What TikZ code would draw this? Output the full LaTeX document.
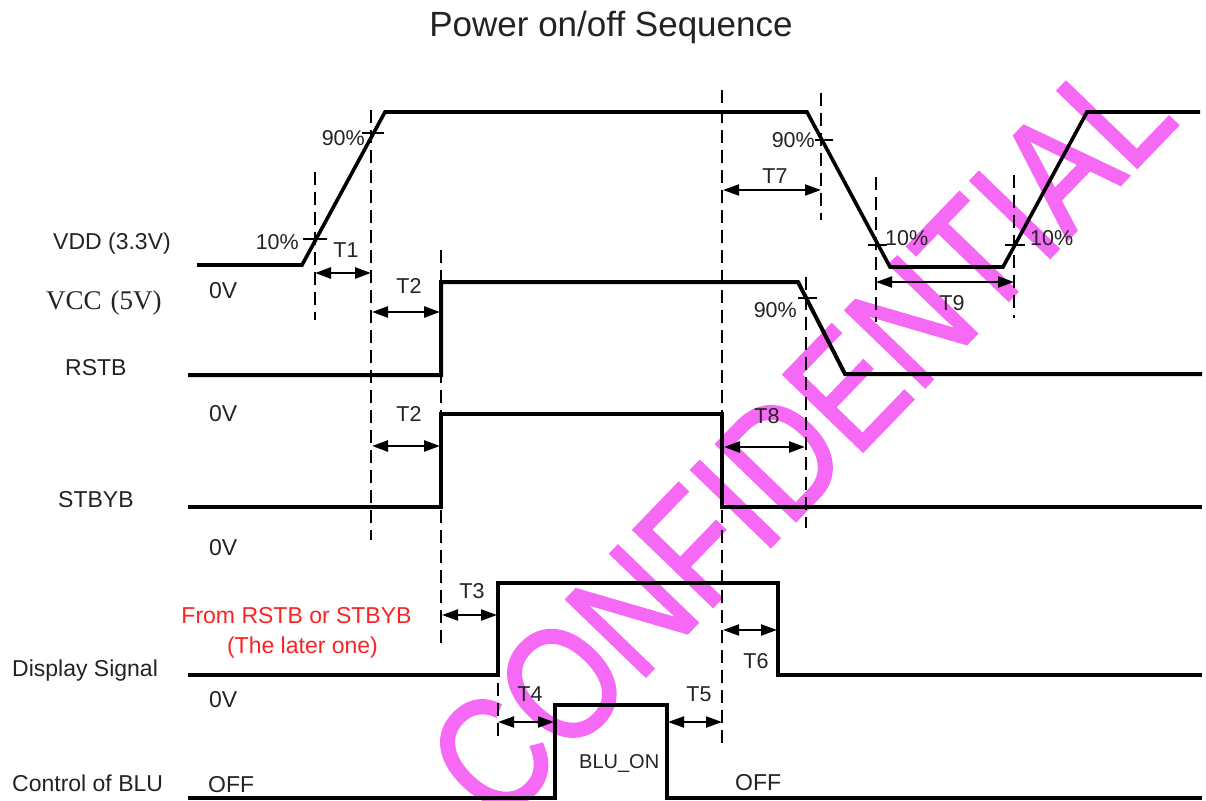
\documentclass[tikz,border=0pt]{standalone}
\usepackage{fontspec}
\setmainfont{Liberation Sans}
\newfontfamily\serifvcc{Liberation Serif}
\newfontfamily\wmfont[FakeBold=1.5]{Liberation Sans}
\usetikzlibrary{arrows.meta}
\definecolor{txt}{RGB}{35,35,35}
\definecolor{wm}{RGB}{245,105,245}
\definecolor{redtxt}{RGB}{250,35,35}
\begin{document}
\begin{tikzpicture}[x=1pt,y=-1pt,
  sig/.style={line width=4pt, line join=miter, line cap=butt},
  guide/.style={line width=2pt, dash pattern=on 13pt off 7pt},
  dim/.style={line width=2pt, {Triangle[length=16pt,width=11pt]}-{Triangle[length=16pt,width=11pt]}},
  tickmark/.style={line width=1.2pt},
  lab/.style={font=\fontsize{23}{27}\selectfont, text=txt, inner sep=0pt},
  small/.style={font=\fontsize{21.5}{25}\selectfont, text=txt, inner sep=0pt},
]
\useasboundingbox (0,0) rectangle (1206,800);

% watermark
\node[rotate=46, text=wm, inner sep=0pt, font=\wmfont\fontsize{134}{140}\selectfont] (wmark) at (800,437) {\scalebox{1}[1.2]{CONFIDENTIAL}};

% guide lines
\draw[guide] (315,172) -- (315,320);
\draw[guide] (371,110) -- (371,540);
\draw[guide] (441,250) -- (441,648);
\draw[guide] (498,683) -- (498,743);
\draw[guide] (722,90) -- (722,745);
\draw[guide] (821,93) -- (821,220);
\draw[guide] (806,277) -- (806,528);
\draw[guide] (876,177) -- (876,322);
\draw[guide] (1014,175) -- (1014,318);

% level ticks
\draw[tickmark] (303,239) -- (327,239);
\draw[tickmark] (362,133) -- (384,133);
\draw[tickmark] (815,140) -- (833,140);
\draw[tickmark] (868,245) -- (887,245);
\draw[tickmark] (1005,245) -- (1025,245);
\draw[tickmark] (798,298) -- (817,298);

% signals
\draw[sig, line width=3.6pt] (197,265) -- (302,265) -- (385,112) -- (807,112) -- (890,267) -- (1003,267) -- (1087,112) -- (1200,112);
\draw[sig] (188,375) -- (441,375) -- (441,282) -- (798,282) -- (845,374) -- (1202,374);
\draw[sig] (188,507) -- (441,507) -- (441,414) -- (722,414) -- (722,507) -- (1202,507);
\draw[sig] (188,675) -- (498,675) -- (498,583) -- (778,583) -- (778,675) -- (1202,675);
\draw[sig] (188,798) -- (555,798) -- (555,705) -- (667,705) -- (667,798) -- (1202,798);

% dimension arrows
\coordinate (t1a) at (315,273); \coordinate (t1b) at (371,273);
\coordinate (t2a) at (372,312); \coordinate (t2b) at (440,312);
\coordinate (t2c) at (372,446); \coordinate (t2d) at (440,446);
\coordinate (t3a) at (442,615); \coordinate (t3b) at (497,615);
\coordinate (t4a) at (498,722); \coordinate (t4b) at (554,722);
\coordinate (t5a) at (668,722); \coordinate (t5b) at (722,722);
\coordinate (t6a) at (723,630); \coordinate (t6b) at (777,630);
\coordinate (t7a) at (723,190); \coordinate (t7b) at (821,190);
\coordinate (t8a) at (724,447); \coordinate (t8b) at (805,447);
\coordinate (t9a) at (876,282); \coordinate (t9b) at (1014,282);
\draw[dim, line width=2.6pt] (t1a) -- (t1b);
\draw[dim, line width=2.6pt] (t2a) -- (t2b);
\draw[dim, line width=2.6pt] (t2c) -- (t2d);
\draw[dim] (t3a) -- (t3b);
\draw[dim] (t4a) -- (t4b);
\draw[dim] (t5a) -- (t5b);
\draw[dim] (t6a) -- (t6b);
\draw[dim] (t7a) -- (t7b);
\draw[dim, line width=2.6pt] (t8a) -- (t8b);
\draw[dim] (t9a) -- (t9b);

% title
\node[font=\fontsize{35}{40}\selectfont, text=txt, anchor=base, inner sep=0pt] (title) at (611,37) {Power on/off Sequence};

% signal names
\node[lab, anchor=base west] (lvdd) at (53,249) {VDD (3.3V)};
\node[font=\serifvcc\fontsize{27}{30}\selectfont, text=txt, anchor=base west, inner sep=0pt] (lvcc) at (46,309) {VCC\hspace{9pt}(5V)};
\node[lab, anchor=base west] (lrstb) at (65,375) {RSTB};
\node[lab, anchor=base west] (lstbyb) at (58,507) {STBYB};
\node[lab, anchor=base west] (ldisp) at (12,676) {Display Signal};
\node[lab, anchor=base west] (lblu) at (12,791) {Control of BLU};

% levels
\node[lab, anchor=base west] (z1) at (209,298) {0V};
\node[lab, anchor=base west] (z2) at (209,421) {0V};
\node[lab, anchor=base west] (z3) at (209,555) {0V};
\node[lab, anchor=base west] (z4) at (209,707) {0V};
\node[lab, anchor=base west] (off1) at (208,792) {OFF};
\node[lab, anchor=base west] (off2) at (735,790) {OFF};
\node[font=\fontsize{20}{24}\selectfont, text=txt, inner sep=0pt, anchor=base west] (bluon) at (579,768) {BLU\_ON};

% red note
\node[lab, text=redtxt, anchor=base] (note1) at (296.5,623) {From RSTB or STBYB};
\node[lab, text=redtxt, anchor=base] (note2) at (302.5,653) {(The later one)};

% percentages
\node[small, anchor=base east] (p1) at (299,249) {10\%};
\node[small, anchor=base east] (p2) at (365,145) {90\%};
\node[small, anchor=base east] (p3) at (815,147) {90\%};
\node[small, anchor=base east] (p4) at (797,317) {90\%};
\node[small, anchor=base west] (p5) at (885,245) {10\%};
\node[small, anchor=base west] (p6) at (1030,245) {10\%};

% timing labels
\node[small, anchor=base] (T1) at (346,257) {T1};
\node[small, anchor=base] (T2a) at (409,293) {T2};
\node[small, anchor=base] (T2b) at (409,421) {T2};
\node[small, anchor=base] (T3) at (472,598) {T3};
\node[small, anchor=base] (T4) at (530,701) {T4};
\node[small, anchor=base] (T5) at (699,701) {T5};
\node[small, anchor=base] (T6) at (756,668) {T6};
\node[small, anchor=base] (T7) at (775,183) {T7};
\node[small, anchor=base] (T8) at (767,423) {T8};
\node[small, anchor=base] (T9) at (952,310) {T9};
\end{tikzpicture}
\end{document}
